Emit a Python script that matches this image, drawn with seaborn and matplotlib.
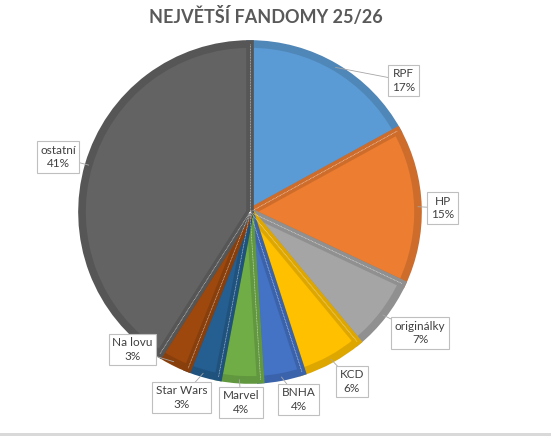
import numpy as np
import matplotlib
matplotlib.use("Agg")
import matplotlib.pyplot as plt
import seaborn as sns
from matplotlib.patches import Rectangle

# data
fandoms = ["RPF", "HP", "originálky", "KCD", "BNHA", "Marvel", "Star Wars", "Na lovu", "ostatní"]
shares = [17, 15, 7, 6, 4, 4, 3, 3, 41]
slice_colors = ["#5B9BD5", "#ED7D31", "#A5A5A5", "#FFC000", "#4472C4",
                "#70AD47", "#255E91", "#9E480E", "#636363"]

# label box centres (layout, in pie radius units)
label_pos = [(0.914, 0.783), (1.146, 0.024), (1.012, -0.720), (0.607, -1.009),
             (0.289, -1.116), (-0.054, -1.134), (-0.408, -1.104), (-0.699, -0.818),
             (-1.143, 0.327)]

sns.set_theme(style="white")
plt.rcParams['font.family'] = ['Lato', 'DejaVu Sans']

palette = sns.color_palette(slice_colors)
edge_palette = [tuple(c * 0.87 for c in col) for col in palette]

f = plt.figure(figsize=(5.51, 4.36), dpi=100)
ax = f.add_axes([0, 0, 1, 1])

wedges, _ = ax.pie(shares, colors=palette, startangle=90, counterclock=False,
                   radius=1.0, wedgeprops=dict(linewidth=5.5))
for w, ec in zip(wedges, edge_palette):
    w.set_edgecolor(ec)
    w.set_joinstyle("miter")
    w.set_clip_path(w)

# thin white separators between slices
bounds = np.cumsum([0] + shares) / float(sum(shares)) * 2 * np.pi
for b in bounds[:-1]:
    ax.plot([0, np.sin(b)], [0, np.cos(b)], color="white", lw=0.45, alpha=0.75,
            ls=(0, (1.5, 1)), zorder=2.5)

total = float(sum(shares))
start = 0.0
for name, val, (lx, ly) in zip(fandoms, shares, label_pos):
    mid = np.deg2rad((start + val / 2) / total * 360)
    start += val
    ex, ey = np.sin(mid), np.cos(mid)
    ax.plot([ex, lx], [ey, ly], color="#A6A6A6", lw=0.6, zorder=3)
    ax.text(lx, ly, "{}\n{}%".format(name, int(round(val / total * 100))),
            ha="center", va="center", fontsize=8.5, color="#404040",
            linespacing=1.25, zorder=5,
            bbox=dict(boxstyle="square,pad=0.3", facecolor="white",
                      edgecolor="#BFBFBF", linewidth=0.8))

ax.set_aspect("auto")
ax.set_xlim(-250 / 168, 301 / 168)
ax.set_ylim(-224 / 168, 212 / 168)
ax.axis("off")

f.text(266 / 551, 1 - 23 / 436, "NEJVĚTŠÍ FANDOMY 25/26", ha="center", va="baseline",
       fontsize=13, fontweight="bold", color="#595959")

f.patches.append(Rectangle((0, 0), 1, 3 / 436, transform=f.transFigure,
                           facecolor="#D9D9D9", edgecolor="none"))

f.savefig("out.png", dpi=100)
